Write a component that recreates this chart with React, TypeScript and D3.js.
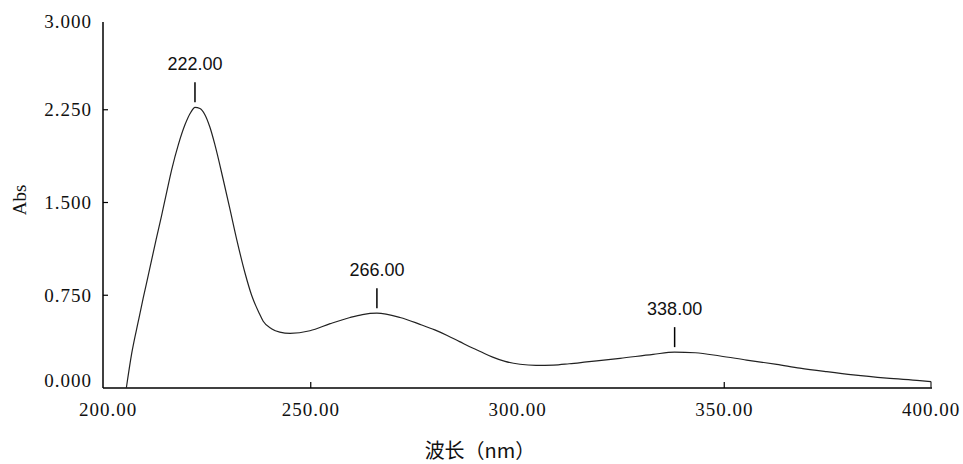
import React from "react";
import * as d3 from "d3";

// spectrum (nm, Abs)
const wavelengths = [
  205.4, 206.7, 208.3, 209.5, 210.7, 212.6, 213.9, 215.2, 216.4, 218.0, 219.6,
  221.0, 222.0, 223.2, 224.4, 225.6, 226.8, 228.8, 230.5, 232.1, 234.1, 235.7,
  237.6, 238.5, 240.5, 242.5, 245.0, 249.8, 254.7, 259.5, 262.5, 266.0, 271.6,
  276.4, 280.0, 283.0, 286.0, 289.0, 291.0, 294.0, 297.0, 300.6, 304.5, 308.7,
  312.5, 316.7, 324.8, 332.8, 338.0, 343.0, 349.0, 355.4, 362.7, 368.3, 374.8,
  381.2, 389.3, 397.3, 400.0,
];
const absorbance = [
  0.0, 0.28, 0.54, 0.73, 0.91, 1.2, 1.39, 1.59, 1.77, 1.97, 2.13, 2.23, 2.27,
  2.26, 2.21, 2.11, 1.97, 1.69, 1.44, 1.2, 0.93, 0.75, 0.6, 0.54, 0.48, 0.452,
  0.442, 0.463, 0.52, 0.57, 0.594, 0.605, 0.57, 0.515, 0.47, 0.425, 0.375,
  0.325, 0.295, 0.25, 0.215, 0.192, 0.183, 0.185, 0.196, 0.211, 0.24, 0.272,
  0.29, 0.285, 0.259, 0.226, 0.191, 0.161, 0.132, 0.106, 0.08, 0.06, 0.052,
];
const peakNm = [222, 266, 338];
const peakAbs = [2.27, 0.605, 0.29];
const peakLabels = ["222.00", "266.00", "338.00"];

const yTicks = [0, 0.75, 1.5, 2.25, 3];
const yTickLabels = ["0.000", "0.750", "1.500", "2.250", "3.000"];
const xTicks = [200, 250, 300, 350, 400];
const xTickLabels = ["200.00", "250.00", "300.00", "350.00", "400.00"];
const xTickMarks = [250, 350];

const App = () => {
  const width = 963;
  const height = 464;

  const x = d3.scaleLinear().domain([200, 400]).range([104, 931]);
  const y = d3.scaleLinear().domain([0, 3]).range([388, 17]);

  const data = wavelengths.map((w, i) => ({ w, a: absorbance[i] }));
  const line = d3
    .line<{ w: number; a: number }>()
    .x((d) => x(d.w))
    .y((d) => y(d.a))
    .curve(d3.curveMonotoneX);
  const last = data[data.length - 1];

  const serif = "'Liberation Serif', 'DejaVu Serif', serif";
  const sans = "'Liberation Sans', 'DejaVu Sans', sans-serif";

  return (
    <svg
      width={width}
      height={height}
      style={{ position: "absolute", left: 0, top: 0, background: "#fff" }}
    >
      {/* axes */}
      <line x1={103} x2={103} y1={22} y2={y(0)} stroke="#000" strokeWidth={1.5} />
      <line x1={103} x2={932} y1={y(0)} y2={y(0)} stroke="#000" strokeWidth={1.5} />
      {yTicks.slice(1, -1).map((t) => (
        <line key={t} x1={103} x2={108} y1={y(t)} y2={y(t)} stroke="#000" strokeWidth={1.2} />
      ))}
      {xTickMarks.map((t) => (
        <line key={t} x1={x(t)} x2={x(t)} y1={y(0)} y2={y(0) - 6} stroke="#000" strokeWidth={1.2} />
      ))}
      <g fontFamily={serif} fontSize={19} letterSpacing={1} fill="#111">
        {yTicks.map((t, i) => (
          <text
            key={t}
            x={92}
            y={Math.max(21, Math.min(380, y(t)))}
            textAnchor="end"
            dominantBaseline="central"
          >
            {yTickLabels[i]}
          </text>
        ))}
        {xTicks.map((t, i) => (
          <text key={t} x={Math.max(108, x(t))} y={416} textAnchor="middle">
            {xTickLabels[i]}
          </text>
        ))}
      </g>
      <text
        transform="translate(26,200) rotate(-90)"
        textAnchor="middle"
        fontFamily={serif}
        fontSize={19}
        fill="#111"
      >
        Abs
      </text>
      <text
        x={480}
        y={458}
        textAnchor="middle"
        fontFamily="'Noto Sans CJK SC', sans-serif"
        fontSize={20}
        fill="#111"
      >
        波长（nm）
      </text>

      {/* spectrum */}
      <path d={line(data) ?? ""} fill="none" stroke="#222" strokeWidth={1.2} />
      <line x1={x(last.w)} x2={x(last.w)} y1={y(last.a)} y2={y(0)} stroke="#222" strokeWidth={1.2} />

      {/* peak markers */}
      {peakNm.map((p, i) => (
        <g key={p}>
          <line
            x1={x(p)}
            x2={x(p)}
            y1={y(peakAbs[i]) - 25}
            y2={y(peakAbs[i]) - 5}
            stroke="#000"
            strokeWidth={1.5}
          />
          <text
            x={x(p)}
            y={y(peakAbs[i]) - 37}
            textAnchor="middle"
            fontFamily={sans}
            fontSize={18}
            fill="#111"
          >
            {peakLabels[i]}
          </text>
        </g>
      ))}
    </svg>
  );
};

export default App;
